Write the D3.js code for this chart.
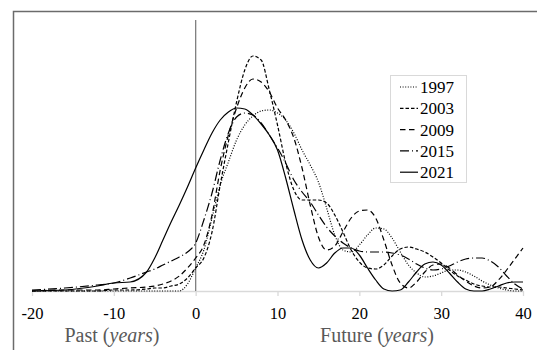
<!DOCTYPE html>
<html>
<head>
<meta charset="utf-8">
<script src="https://cdn.jsdelivr.net/npm/d3@7"></script>
<style>
  body { margin: 0; background: #fff; }
  svg { display: block; }
</style>
</head>
<body>
<div id="chart"></div>
<script>
// years relative to publication (past < 0 < future)
const years = [-20, -16, -12, -10, -8, -6, -5, -4, -3, -2, -1,
  0, 1, 2, 3, 4, 5, 6, 7, 8, 9,
  10, 11, 12, 13, 14, 15, 16, 17, 18, 19,
  20, 21, 22, 23, 24, 25, 26, 27, 28, 29,
  30, 31, 32, 33, 34, 35, 36, 37, 38, 39,
  40];

const series1997 = [0, 0, 0, 0, 0, 0, 0, 0, 0, 0, 0.7,
  2.3, 4.1, 7.3, 10.6, 12.9, 15.1, 16.6, 17.5, 18.0, 18.1,
  17.8, 17.1, 15.8, 14.1, 12.6, 10.9, 8.3, 5.6, 4.1, 3.9,
  4.6, 5.6, 6.3, 6.2, 5.3, 3.9, 2.6, 1.8, 1.4, 1.5,
  1.8, 2.1, 2.1, 1.9, 1.5, 1.0, 0.6, 0.3, 0.1, 0,
  0];
const series2003 = [0, 0, 0, 0.1, 0.1, 0.2, 0.3, 0.3, 0.5, 0.7, 1.3,
  2.3, 3.3, 5.9, 10.6, 14.9, 18.9, 22.1, 23.5, 23.1, 20.1,
  16.6, 12.8, 10.1, 9.1, 9.1, 9.1, 8.8, 7.6, 5.9, 4.1,
  2.9, 2.3, 2.2, 2.6, 3.5, 4.2, 4.4, 4.2, 3.9, 3.4,
  2.8, 2.1, 1.5, 1.1, 0.7, 0.5, 0.4, 0.4, 0.3, 0.2,
  0.1];
const series2009 = [0, 0.1, 0.1, 0.2, 0.3, 0.4, 0.5, 0.7, 1.0, 1.5, 2.3,
  3.3, 4.6, 7.6, 12.1, 15.6, 18.3, 20.3, 21.2, 20.9, 19.9,
  18.3, 17.1, 15.3, 12.3, 8.6, 5.4, 4.1, 4.5, 5.9, 7.3,
  8.0, 8.1, 7.3, 5.1, 2.6, 0.8, 0.3, 0.9, 1.9, 2.6,
  2.7, 2.3, 1.6, 1.0, 0.5, 0.3, 0.4, 1.1, 2.1, 3.2,
  4.3];
const series2015 = [0.1, 0.3, 0.6, 0.8, 1.3, 1.9, 2.2, 2.6, 3.0, 3.4, 3.9,
  4.8, 7.1, 9.8, 13.1, 15.8, 17.4, 17.8, 17.6, 16.8, 15.6,
  14.3, 12.8, 11.1, 9.9, 8.9, 7.6, 6.4, 5.5, 4.8, 4.3,
  4.0, 3.9, 3.9, 3.9, 3.8, 3.6, 3.2, 2.7, 2.3, 2.1,
  2.2, 2.5, 2.9, 3.2, 3.3, 3.3, 3.0, 2.4, 1.5, 0.7,
  0.2];
const series2021 = [0, 0.1, 0.5, 0.8, 0.9, 1.9, 3.3, 5.1, 6.9, 8.6, 10.4,
  12.3, 14.1, 15.8, 17.1, 17.9, 18.3, 18.2, 17.6, 16.7, 15.6,
  14.1, 11.3, 8.1, 5.1, 3.1, 2.3, 2.8, 3.8, 4.3, 4.3,
  3.6, 2.3, 1.1, 0.2, 0, 0.1, 0.9, 1.9, 2.7, 2.9,
  2.6, 1.8, 0.9, 0.2, 0, 0, 0.2, 0.5, 0.8, 0.9,
  0.9];

const seriesNames = ['1997', '2003', '2009', '2015', '2021'];
const xTicks = [-20, -10, 0, 10, 20, 30, 40];

const allSeries = [series1997, series2003, series2009, series2015, series2021];
const dashes = ['1,1.6', '3.5,2', '5.5,3.5', '9,3,1,3', null];

const width = 537, height = 350;
const serif = '"Liberation Serif", "Times New Roman", "DejaVu Serif", serif';

const svg = d3.select('#chart')
  .append('svg')
  .attr('width', width)
  .attr('height', height);

// outer frame (only top/left edges visible)
svg.append('path')
  .attr('d', 'M13.5,' + height + 'V11.5H' + width)
  .attr('fill', 'none')
  .attr('stroke', '#6b6b6b')
  .attr('stroke-width', 1.5);

const x = d3.scaleLinear().domain([-20, 40]).range([32, 523]);
const y = d3.scaleLinear().domain([0, 27.1]).range([291, 20]);

// x axis
const xAxis = d3.axisBottom(x)
  .tickValues(xTicks)
  .tickSize(5)
  .tickSizeOuter(0)
  .tickPadding(11)
  .tickFormat(d => String(d));

const gx = svg.append('g')
  .attr('transform', 'translate(0,' + y(0) + ')')
  .call(xAxis)
  .attr('font-family', serif)
  .attr('font-size', 16.5);
gx.select('.domain').attr('stroke', '#d9d9d9').attr('stroke-width', 1.3);
gx.selectAll('.tick line').attr('stroke', '#d9d9d9').attr('stroke-width', 1.3);
gx.selectAll('.tick text').attr('fill', '#000');

// present marker
svg.append('line')
  .attr('x1', x(0)).attr('x2', x(0))
  .attr('y1', 20).attr('y2', y(0))
  .attr('stroke', '#7f7f7f')
  .attr('stroke-width', 1.3);

// curves
const line = d3.line()
  .x((d, i) => x(years[i]))
  .y(d => y(d))
  .curve(d3.curveMonotoneX);

allSeries.forEach((s, i) => {
  svg.append('path')
    .datum(s)
    .attr('d', line)
    .attr('fill', 'none')
    .attr('stroke', '#000')
    .attr('stroke-width', 1.2)
    .attr('stroke-dasharray', dashes[i]);
});

// axis titles
function axisTitle(cx, word) {
  const t = svg.append('text')
    .attr('x', cx)
    .attr('y', 342)
    .attr('text-anchor', 'middle')
    .attr('fill', '#595959')
    .attr('font-family', serif)
    .attr('font-size', 20);
  t.append('tspan').text(word + ' (');
  t.append('tspan').attr('font-style', 'italic').text('years');
  t.append('tspan').text(')');
}
axisTitle(112, 'Past');
axisTitle(377, 'Future');

// legend
const legend = svg.append('g');
legend.append('rect')
  .attr('x', 390.5).attr('y', 75.5)
  .attr('width', 76).attr('height', 107)
  .attr('fill', '#fff')
  .attr('stroke', '#d9d9d9');

seriesNames.forEach((name, i) => {
  const cy = 87 + i * 21.3;
  legend.append('line')
    .attr('x1', 400).attr('x2', 418)
    .attr('y1', cy).attr('y2', cy)
    .attr('stroke', '#000')
    .attr('stroke-width', 1.2)
    .attr('stroke-dasharray', dashes[i]);
  legend.append('text')
    .attr('x', 420)
    .attr('y', cy + 6)
    .attr('fill', '#000')
    .attr('font-family', serif)
    .attr('font-size', 17)
    .text(name);
});
</script>
</body>
</html>
